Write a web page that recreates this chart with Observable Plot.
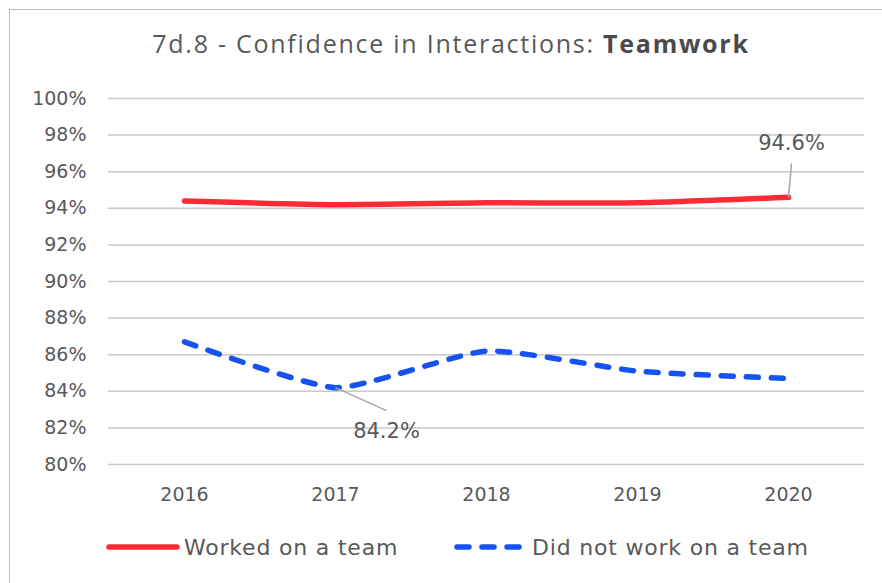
<!DOCTYPE html>
<html>
<head>
<meta charset="utf-8">
<script src="https://cdn.jsdelivr.net/npm/d3@7"></script>
<script src="https://cdn.jsdelivr.net/npm/@observablehq/plot@0.6"></script>
<style>
  html, body { margin: 0; padding: 0; background: #fff; }
  #chart { position: relative; width: 882px; height: 583px; overflow: hidden; font-family: "DejaVu Sans", sans-serif; color: #595959; }
  #frame { position: absolute; left: 9px; top: 9px; width: 900px; height: 620px; border: 1.5px solid #bdbdbd; box-sizing: border-box; }
  #title { position: absolute; left: 0; width: 902px; top: 26px; text-align: center; font-family: "Open Sans", sans-serif; font-size: 25px; letter-spacing: 1.75px; color: #595959; white-space: nowrap; }
  #title b { font-weight: 700; color: #4a4a4a; }
  #plot { position: absolute; left: 0; top: 0; }
  #legend { position: absolute; top: 532px; left: 0; width: 882px; height: 30px; }
  .item { position: absolute; display: flex; align-items: center; font-size: 22px; letter-spacing: 0.8px; color: #595959; white-space: nowrap; }
  .item svg { margin-right: 3px; }
</style>
</head>
<body>
<div id="chart">
  <div id="frame"></div>
  <div id="title">7d.8 - Confidence in Interactions: <b>Teamwork</b></div>
  <div id="plot"></div>
  <div id="legend"></div>
</div>
<script>
// Survey years and the share of respondents confident in teamwork interactions
const years = ["2016", "2017", "2018", "2019", "2020"];
const worked = [94.4, 94.2, 94.3, 94.3, 94.6];
const notWorked = [86.7, 84.2, 86.2, 85.1, 84.7];
const yTicks = [80, 82, 84, 86, 88, 90, 92, 94, 96, 98, 100];
const seriesNames = ["Worked on a team", "Did not work on a team"];

const red = "#fb2c35";
const blue = "#1652f0";
const ink = "#595959";

const rows = years.flatMap((year, i) => [
  {year, series: seriesNames[0], value: worked[i]},
  {year, series: seriesNames[1], value: notWorked[i]}
]);

// Callouts: the final team value and the 2017 low of the other series.
// lineEnd is the pixel offset of the leader line's far end, labelAt that of the label.
const callouts = [
  {year: years[4], value: worked[4], lineEnd: [3, -34], labelAt: [3, -54]},
  {year: years[1], value: notWorked[1], lineEnd: [51, 23], labelAt: [51, 44]}
];

// Re-position each rendered callout element relative to its data point
function offsetRender(apply) {
  return (index, scales, values, dimensions, context, next) => {
    const g = next(index, scales, values, dimensions, context);
    d3.select(g).selectAll("path, text").each(function(_, j) {
      const d = callouts[index[j]];
      apply(d3.select(this), d, scales.x(d.year), scales.y(d.value));
    });
    return g;
  };
}

const plot = Plot.plot({
  width: 882,
  height: 583,
  marginLeft: 108,
  marginRight: 18,
  marginTop: 98,
  marginBottom: 119,
  style: {fontFamily: "DejaVu Sans, sans-serif", fontSize: "19px", color: ink, background: "transparent"},
  x: {type: "point", domain: years, padding: 0.5, label: null},
  y: {domain: [80, 100], label: null},
  marks: [
    Plot.ruleY(yTicks, {stroke: "#c8c8c8", strokeWidth: 1.5, strokeOpacity: 1}),
    Plot.axisY(yTicks, {tickSize: 0, tickPadding: 22, tickFormat: d => d + "%", fill: ink, fontSize: 19, label: null}),
    Plot.axisX({tickSize: 0, tickPadding: 23, fill: ink, fontSize: 19, label: null}),
    Plot.line(rows.filter(d => d.series === seriesNames[0]), {
      x: "year", y: "value", stroke: red, strokeWidth: 5.5,
      curve: "cardinal", tension: 0.45, strokeLinecap: "round"
    }),
    Plot.line(rows.filter(d => d.series === seriesNames[1]), {
      x: "year", y: "value", stroke: blue, strokeWidth: 5.5,
      curve: "cardinal", tension: 0.45, strokeLinecap: "round", strokeDasharray: "12,13"
    }),
    Plot.link(callouts, {
      x1: "year", y1: "value", x2: "year", y2: "value",
      stroke: "#a6a6a6", strokeWidth: 1.5,
      render: offsetRender((el, d, x, y) =>
        el.attr("d", `M${x},${y}L${x + d.lineEnd[0]},${y + d.lineEnd[1]}`))
    }),
    Plot.text(callouts, {
      x: "year", y: "value", text: d => d.value.toFixed(1) + "%",
      fill: ink, fontSize: 21,
      render: offsetRender((el, d, x, y) =>
        el.attr("transform", `translate(${x + d.labelAt[0]},${y + d.labelAt[1]})`))
    })
  ]
});
document.getElementById("plot").appendChild(plot);

// Legend row beneath the plot
const legend = d3.select("#legend");
const items = [
  {name: seriesNames[0], color: red, dash: null, left: 105},
  {name: seriesNames[1], color: blue, dash: "12,13", left: 453}
];
items.forEach(it => {
  const item = legend.append("div").attr("class", "item").style("left", it.left + "px").style("top", "0px");
  const s = item.append("svg").attr("width", 76).attr("height", 30);
  s.append("line").attr("x1", 4).attr("x2", 72).attr("y1", 15).attr("y2", 15)
    .attr("stroke", it.color).attr("stroke-width", 5.5).attr("stroke-linecap", "round")
    .attr("stroke-dasharray", it.dash);
  item.append("span").text(it.name);
});
</script>
</body>
</html>
